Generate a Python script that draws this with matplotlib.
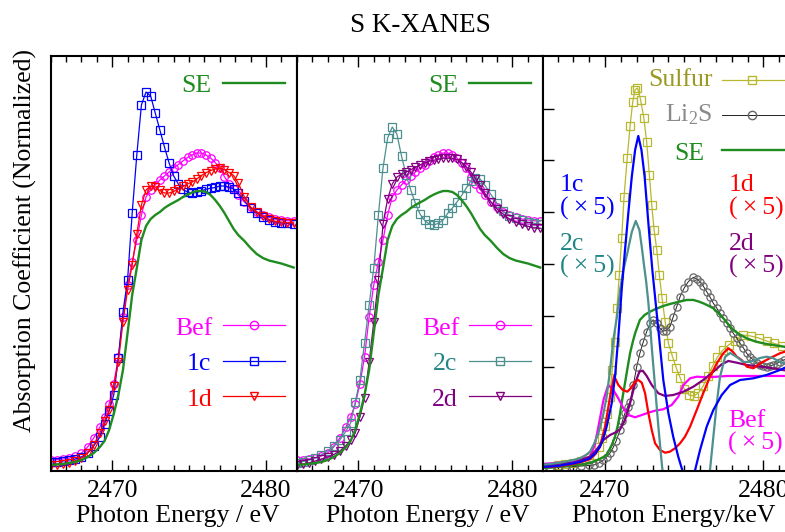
import matplotlib
matplotlib.use('Agg')
import matplotlib.pyplot as plt
from matplotlib.lines import Line2D
from matplotlib.ticker import MultipleLocator, FixedLocator, NullLocator, NullFormatter

plt.rcParams['font.family'] = ['Liberation Serif', 'DejaVu Serif']
plt.rcParams['mathtext.fontset'] = 'custom'
plt.rcParams['mathtext.rm'] = 'Liberation Serif'
plt.rcParams['mathtext.it'] = 'Liberation Serif:italic'
plt.rcParams['mathtext.bf'] = 'Liberation Serif:bold'

# ---------------- data: panels 1 and 2 (normalized absorption) ----------------
E12 = [2466.0, 2466.4, 2466.8, 2467.2, 2467.6, 2468.0, 2468.4, 2468.8, 2469.2,
       2469.5, 2469.8, 2470.1, 2470.4, 2470.7, 2471.0, 2471.3, 2471.6, 2471.9,
       2472.2, 2472.5, 2472.8, 2473.1, 2473.4, 2473.7, 2474.0, 2474.3, 2474.6,
       2474.9, 2475.2, 2475.5, 2475.8, 2476.1, 2476.4, 2476.7, 2477.0, 2477.3,
       2477.6, 2477.9, 2478.2, 2478.6, 2479.0, 2479.4, 2479.8, 2480.2, 2480.6,
       2481.0, 2481.4, 2481.8]
se12 = [0.000, 0.002, 0.004, 0.008, 0.012, 0.020, 0.032, 0.048, 0.072, 0.096, 0.140,
        0.204, 0.280, 0.380, 0.528, 0.680, 0.788, 0.900, 0.956, 0.984, 1.000, 1.012,
        1.028, 1.040, 1.050, 1.060, 1.072, 1.082, 1.090, 1.096, 1.096, 1.092, 1.080,
        1.060, 1.036, 1.008, 0.976, 0.944, 0.920, 0.896, 0.868, 0.844, 0.828, 0.818,
        0.812, 0.806, 0.798, 0.790]
bef = [0.020, 0.022, 0.024, 0.028, 0.036, 0.048, 0.072, 0.108, 0.152, 0.192, 0.244,
       0.324, 0.432, 0.592, 0.720, 0.812, 0.900, 1.000, 1.072, 1.100, 1.120, 1.140,
       1.156, 1.172, 1.188, 1.202, 1.216, 1.230, 1.240, 1.248, 1.248, 1.240, 1.228,
       1.210, 1.188, 1.153, 1.126, 1.102, 1.080, 1.052, 1.030, 1.013, 1.000, 0.990,
       0.984, 0.980, 0.977, 0.976]
c1 = [0.012, 0.014, 0.016, 0.020, 0.024, 0.032, 0.048, 0.076, 0.112, 0.164, 0.216,
      0.280, 0.428, 0.612, 0.740, 1.008, 1.240, 1.440, 1.492, 1.476, 1.408, 1.340,
      1.272, 1.208, 1.156, 1.124, 1.102, 1.092, 1.088, 1.090, 1.096, 1.103, 1.107,
      1.110, 1.116, 1.116, 1.112, 1.104, 1.088, 1.056, 1.028, 1.008, 0.992, 0.980,
      0.972, 0.968, 0.966, 0.964]
d1 = [0.000, 0.002, 0.004, 0.008, 0.016, 0.028, 0.048, 0.080, 0.128, 0.176, 0.220,
      0.316, 0.412, 0.572, 0.700, 0.800, 0.924, 1.040, 1.100, 1.116, 1.112, 1.098,
      1.088, 1.088, 1.094, 1.104, 1.114, 1.124, 1.132, 1.144, 1.158, 1.169, 1.178,
      1.184, 1.187, 1.182, 1.170, 1.158, 1.128, 1.072, 1.032, 1.013, 0.996, 0.982,
      0.975, 0.972, 0.969, 0.969]
c2 = [0.010, 0.014, 0.020, 0.028, 0.040, 0.056, 0.076, 0.100, 0.136, 0.168, 0.252,
      0.340, 0.488, 0.640, 0.788, 1.000, 1.188, 1.308, 1.352, 1.324, 1.236, 1.160,
      1.100, 1.047, 1.004, 0.978, 0.964, 0.960, 0.967, 0.980, 1.007, 1.028, 1.052,
      1.078, 1.108, 1.136, 1.147, 1.144, 1.120, 1.082, 1.047, 1.014, 0.996, 0.987,
      0.978, 0.971, 0.967, 0.964]
d2 = [0.000, 0.004, 0.008, 0.016, 0.024, 0.032, 0.042, 0.056, 0.078, 0.100, 0.128,
      0.192, 0.268, 0.412, 0.572, 0.740, 0.964, 1.064, 1.124, 1.152, 1.163, 1.172,
      1.181, 1.191, 1.200, 1.208, 1.215, 1.219, 1.224, 1.227, 1.227, 1.227, 1.222,
      1.210, 1.193, 1.172, 1.146, 1.118, 1.087, 1.052, 1.024, 1.004, 0.984, 0.972,
      0.962, 0.955, 0.948, 0.947]

# ---------------- data: panel 3 ----------------
E_sul = [2466.0, 2466.5, 2467.0, 2467.5, 2468.0, 2468.5, 2469.0, 2469.3, 2469.6, 2469.8,
         2470.0, 2470.15, 2470.3, 2470.45, 2470.6, 2470.75, 2470.9, 2471.05, 2471.2,
         2471.4, 2471.58, 2471.75, 2471.9, 2472.05, 2472.25, 2472.45, 2472.63, 2472.8,
         2472.95, 2473.1, 2473.27, 2473.43, 2473.6, 2473.8, 2474.0, 2474.25, 2474.5,
         2474.75, 2475.0, 2475.3, 2475.6, 2475.9, 2476.2, 2476.5, 2476.8, 2477.1,
         2477.45, 2477.8, 2478.2, 2478.7, 2479.2, 2479.7, 2480.2, 2480.7, 2481.2, 2481.6]
sulfur = [0.072, 0.081, 0.101, 0.120, 0.149, 0.188, 0.246, 0.313, 0.458, 0.632, 0.865,
          1.097, 1.426, 1.948, 2.489, 3.147, 3.785, 4.501, 5.294, 6.048, 6.667, 7.132,
          7.364, 7.402, 7.170, 6.822, 6.358, 5.720, 5.139, 4.656, 4.269, 3.785, 3.340,
          2.876, 2.470, 2.219, 1.986, 1.793, 1.580, 1.464, 1.445, 1.503, 1.638, 1.832,
          2.025, 2.199, 2.335, 2.431, 2.515, 2.625, 2.605, 2.567, 2.509, 2.460, 2.412,
          2.383]
E_li2s = [2466.0, 2466.5, 2467.0, 2467.5, 2468.0, 2468.5, 2469.0, 2469.3, 2469.6, 2469.9,
          2470.1, 2470.3, 2470.5, 2470.7, 2470.95, 2471.1, 2471.26, 2471.42, 2471.58,
          2471.79, 2472.0, 2472.2, 2472.42, 2472.63, 2472.84, 2473.05, 2473.27, 2473.45,
          2473.65, 2473.85, 2474.1, 2474.31, 2474.53, 2474.74, 2474.99, 2475.26, 2475.58,
          2475.8, 2476.0, 2476.2, 2476.42, 2476.63, 2476.84, 2477.05, 2477.26, 2477.47,
          2477.69, 2477.9, 2478.1, 2478.32, 2478.53, 2478.74, 2478.95, 2479.16, 2479.37,
          2479.58, 2479.8, 2480.0, 2480.2, 2480.4, 2480.6, 2480.85, 2481.05, 2481.3, 2481.6]
li2s = [0.052, 0.052, 0.062, 0.072, 0.077, 0.091, 0.101, 0.110, 0.149, 0.207, 0.265,
        0.337, 0.439, 0.574, 0.787, 0.961, 1.116, 1.232, 1.335, 1.658, 2.012, 2.271,
        2.495, 2.689, 2.851, 2.915, 2.851, 2.760, 2.702, 2.708, 2.785, 2.979, 3.172,
        3.366, 3.528, 3.656, 3.741, 3.708, 3.656, 3.573, 3.462, 3.360, 3.238, 3.147,
        3.044, 2.954, 2.851, 2.760, 2.658, 2.567, 2.464, 2.373, 2.271, 2.199, 2.141,
        2.083, 2.044, 2.025, 2.012, 2.025, 2.044, 2.073, 2.108, 2.141, 2.180]
E_se3 = [2466.0, 2467.0, 2468.0, 2468.5, 2469.0, 2469.5, 2469.8, 2470.1, 2470.4, 2470.63,
         2470.8, 2470.95, 2471.1, 2471.26, 2471.42, 2471.58, 2471.75, 2471.9, 2472.2,
         2472.5, 2472.84, 2473.2, 2473.68, 2474.1, 2474.53, 2475.16, 2475.58, 2475.9,
         2476.2, 2476.5, 2476.84, 2477.15, 2477.47, 2477.8, 2478.1, 2478.5, 2478.95,
         2479.4, 2479.8, 2480.2, 2480.6, 2481.0, 2481.6]
se3 = [0.052, 0.072, 0.110, 0.120, 0.143, 0.207, 0.246, 0.304, 0.478, 0.658, 0.865,
       1.110, 1.406, 1.691, 1.986, 2.271, 2.489, 2.658, 2.915, 3.012, 3.075, 3.128,
       3.186, 3.224, 3.257, 3.302, 3.302, 3.273, 3.238, 3.195, 3.141, 3.050, 2.948,
       2.828, 2.721, 2.634, 2.561, 2.509, 2.476, 2.451, 2.431, 2.412, 2.383]
E_c1x5 = [2466.0, 2467.0, 2468.0, 2468.5, 2469.05, 2469.4, 2469.68, 2469.9, 2470.1,
          2470.25, 2470.42, 2470.63, 2470.84, 2471.05, 2471.26, 2471.47, 2471.69, 2471.9,
          2472.1, 2472.3, 2472.5, 2472.67, 2472.84, 2473.0, 2473.16, 2473.37, 2473.68,
          2474.0, 2474.31, 2474.63, 2474.84, 2475.05, 2475.25, 2475.45, 2475.69, 2476.0,
          2476.42, 2476.84, 2477.37, 2477.9, 2478.53, 2479.37, 2480.2, 2481.05, 2481.6]
c1x5 = [0.072, 0.091, 0.143, 0.178, 0.240, 0.342, 0.464, 0.632, 0.851, 1.058, 1.304,
        1.818, 2.592, 3.495, 4.269, 4.979, 5.687, 6.203, 6.474, 6.203, 5.687, 5.043,
        4.404, 3.843, 3.360, 2.721, 1.754, 1.116, 0.652, 0.265, 0.052, -0.141, -0.219,
        -0.180, 0.014, 0.400, 0.851, 1.174, 1.464, 1.658, 1.754, 1.787, 1.851, 1.948,
        2.025]
E_c2x5 = [2466.0, 2467.16, 2468.0, 2468.4, 2468.8, 2469.05, 2469.3, 2469.58, 2469.9,
          2470.1, 2470.32, 2470.52, 2470.74, 2470.95, 2471.16, 2471.41, 2471.69, 2471.94,
          2472.17, 2472.32, 2472.46, 2472.6, 2472.74, 2472.95, 2473.16, 2473.37, 2473.58,
          2473.8, 2474.1, 2474.5, 2475.0, 2475.5, 2476.0, 2476.3, 2476.63, 2476.84,
          2477.06, 2477.26, 2477.58, 2477.9, 2478.32, 2478.74, 2479.16, 2479.8, 2480.2,
          2480.6, 2481.05, 2481.6]
c2x5 = [0.110, 0.155, 0.207, 0.240, 0.304, 0.368, 0.516, 0.723, 1.110, 1.431, 1.948,
        2.528, 2.954, 3.495, 3.882, 4.211, 4.617, 4.830, 4.656, 4.327, 3.979, 3.650,
        3.244, 2.393, 1.619, 0.845, 0.149, -0.470, -1.147, -1.631, -1.824, -1.727,
        -1.244, -0.663, 0.014, 0.652, 1.309, 1.812, 2.199, 2.277, 2.199, 2.103, 2.103,
        2.180, 2.205, 2.180, 2.103, 2.044]
E_d1x5 = [2466.0, 2466.8, 2468.0, 2468.5, 2469.05, 2469.4, 2469.68, 2470.0, 2470.32,
          2470.57, 2470.84, 2471.12, 2471.41, 2471.62, 2471.9, 2472.1, 2472.32, 2472.53,
          2472.74, 2472.95, 2473.16, 2473.47, 2473.79, 2474.1, 2474.42, 2474.74, 2475.05,
          2475.37, 2475.79, 2476.2, 2476.63, 2477.06, 2477.47, 2477.79, 2478.07, 2478.32,
          2478.63, 2478.95, 2479.37, 2479.8, 2480.4, 2481.05, 2481.6]
d1x5 = [0.072, 0.077, 0.130, 0.168, 0.221, 0.323, 0.464, 0.851, 1.431, 1.832, 1.658,
        1.561, 1.528, 1.594, 1.721, 1.754, 1.702, 1.497, 1.110, 0.787, 0.530, 0.400,
        0.348, 0.368, 0.433, 0.530, 0.658, 0.851, 1.174, 1.497, 1.818, 2.077, 2.271,
        2.368, 2.302, 2.205, 2.141, 2.012, 1.981, 2.077, 2.174, 2.271, 2.325]
E_d2x5 = [2466.0, 2468.0, 2469.05, 2469.5, 2469.9, 2470.32, 2470.63, 2470.95, 2471.26,
          2471.58, 2471.9, 2472.17, 2472.38, 2472.63, 2472.95, 2473.37, 2473.79, 2474.31,
          2474.95, 2475.58, 2476.2, 2476.84, 2477.37, 2477.79, 2478.32, 2478.95, 2479.8,
          2480.6, 2481.6]
d2x5 = [0.110, 0.155, 0.271, 0.420, 0.594, 0.691, 0.735, 0.801, 0.981, 1.304, 1.691,
        1.915, 1.934, 1.832, 1.658, 1.497, 1.445, 1.464, 1.528, 1.625, 1.754, 1.915,
        2.058, 2.122, 2.089, 2.044, 2.012, 1.981, 1.928]
E_befx5 = [2466.0, 2468.0, 2469.05, 2469.35, 2469.58, 2469.9, 2470.2, 2470.52, 2470.84,
           2471.16, 2471.47, 2471.9, 2472.32, 2472.74, 2473.16, 2473.68, 2474.21, 2474.63,
           2474.95, 2475.37, 2475.79, 2476.42, 2477.06, 2477.69, 2478.53, 2479.58,
           2480.6, 2481.6]
befx5 = [0.130, 0.174, 0.271, 0.497, 0.851, 1.368, 1.658, 1.561, 1.400, 1.207, 1.077,
         1.033, 1.077, 1.122, 1.161, 1.188, 1.271, 1.431, 1.658, 1.787, 1.818, 1.807,
         1.818, 1.832, 1.832, 1.832, 1.832, 1.832]

xticks_major = [2470, 2480]
xtick_labels = ['2470', '2480']

# ---------------- colours ----------------
C_SE = '#1e8c1e'
C_BEF = '#ff00ff'
C_1C = '#0000ff'
C_1D = '#ff0000'
C_2C = '#4e8f8f'
C_2C_TXT = '#1f8585'
C_2D = '#800080'
C_SUL = '#b8b830'
C_SUL_TXT = '#9a9a22'
C_LI = '#666666'
C_LI_TXT = '#8a8a8a'

W, H = 785, 532
fig = plt.figure(figsize=(W / 100, H / 100), dpi=100)

def fx(x):
    return x / W

def fy(y):
    return 1 - y / H

AX_B, AX_T = 470.7, 56.0

def add_ax(left, width):
    return fig.add_axes([left / W, 1 - AX_B / H, width / W, (AX_B - AX_T) / H])

ax1 = add_ax(50.7, 246.0)
ax2 = add_ax(296.7, 246.6)
ax3 = add_ax(543.3, 253.3)

FS = 18.5

def style(ax, xlim, ylim, yticks=None):
    ax.set_xlim(*xlim)
    ax.set_ylim(*ylim)
    for s in ax.spines.values():
        s.set_linewidth(1.5)
    ax.xaxis.set_major_locator(FixedLocator(xticks_major))
    ax.set_xticklabels(xtick_labels)
    ax.xaxis.set_minor_locator(MultipleLocator(1))
    ax.tick_params(axis='x', which='both', direction='in', top=True, bottom=True,
                   labelsize=FS, pad=6.5, width=1)
    ax.tick_params(axis='x', which='major', length=8)
    ax.tick_params(axis='x', which='minor', length=4)
    if yticks is None:
        ax.yaxis.set_major_locator(NullLocator())
        ax.tick_params(axis='y', which='both', left=False, right=False, labelleft=False)
    else:
        ax.yaxis.set_major_locator(FixedLocator(yticks))
        ax.yaxis.set_major_formatter(NullFormatter())
        ax.tick_params(axis='y', which='both', direction='in', left=True, right=False,
                       length=8, width=1, labelleft=False)

YL12 = (-0.0228, 1.636)
style(ax1, (2466, 2482), YL12)
style(ax2, (2466, 2482), YL12)
style(ax3, (2466.1, 2482.1), (0, 8.02), yticks=[1, 2, 3, 4, 5, 6, 7])

mk = dict(mfc='none', ms=5.4, mew=0.9, lw=0.9)

# panel 1
ax1.plot(E12, bef, color=C_BEF, marker='o', **mk)
ax1.plot(E12, c1, color=C_1C, marker='s', **mk)
ax1.plot(E12, d1, color=C_1D, marker='v', **mk)
ax1.plot(E12, se12, color=C_SE, lw=1.7)

# panel 2
ax2.plot(E12, bef, color=C_BEF, marker='o', **mk)
ax2.plot(E12, c2, color=C_2C, marker='s', **mk)
ax2.plot(E12, d2, color=C_2D, marker='v', **mk)
ax2.plot(E12, se12, color=C_SE, lw=1.7)

# panel 3
ax3.plot(E_sul, sulfur, color=C_SUL, marker='s', mfc='none', ms=5.2, mew=0.9, lw=0.9)
ax3.plot(E_li2s, li2s, color='#222222', lw=0.7, marker='o', mfc='none', mec=C_LI,
         ms=5.2, mew=0.9)
ax3.plot(E_se3, se3, color=C_SE, lw=1.7)
ax3.plot(E_befx5, befx5, color=C_BEF, lw=1.6)
ax3.plot(E_d2x5, d2x5, color=C_2D, lw=1.6)
ax3.plot(E_d1x5, d1x5, color=C_1D, lw=1.6)
ax3.plot(E_c2x5, c2x5, color=C_2C, lw=1.6)
ax3.plot(E_c1x5, c1x5, color=C_1C, lw=1.6)

# ---------------- key entries (figure pixel coordinates) ----------------
def key(txt, tx, ty, col, x0, x1, ly, lcol, marker=None, mx=None, lw=0.9, mec=None):
    fig.text(fx(tx), fy(ty), txt, color=col, fontsize=FS, ha='right', va='baseline')
    fig.add_artist(Line2D([fx(x0), fx(x1)], [fy(ly), fy(ly)], color=lcol, lw=lw))
    if marker is not None:
        fig.add_artist(Line2D([fx(mx)], [fy(ly)], marker=marker, mfc='none',
                              mec=mec or lcol, ms=6, mew=1.0, lw=0))

key('SE', 211, 91.5, C_SE, 222.7, 285, 82.7, C_SE, lw=1.7)
key('Bef', 213, 335, C_BEF, 222.7, 285, 325, C_BEF, 'o', 253.5)
key('1c', 211, 370, C_1C, 222.7, 285, 361, C_1C, 's', 253.5)
key('1d', 212, 406, C_1D, 222.7, 285, 396, C_1D, 'v', 253.5)

key('SE', 458, 92.5, C_SE, 468.5, 531, 82.7, C_SE, lw=1.7)
key('Bef', 460, 335, C_BEF, 469, 531, 325, C_BEF, 'o', 500)
key('2c', 457, 370, C_2C_TXT, 469, 531, 361, C_2C, 's', 500)
key('2d', 458, 406, C_2D, 469, 531, 396, C_2D, 'v', 500)

key('Sulfur', 713, 86, C_SUL_TXT, 722, 800, 79.5, C_SUL, 's', 752)
key(r'Li$_\mathrm{2}$S', 712, 121.5, C_LI_TXT, 722, 800, 115, '#222222', 'o', 752,
    lw=0.7, mec=C_LI)
key('SE', 704, 160, C_SE, 722, 800, 150, C_SE, lw=1.7)

def lab(txt, x, y, col):
    fig.text(fx(x), fy(y), txt, color=col, fontsize=FS, ha='left', va='baseline')

X5 = '(\u2009\u00d7\u20095)'
lab('1c', 560, 190.7, C_1C)
lab(X5, 560, 215, C_1C)
lab('2c', 560, 250, C_2C_TXT)
lab(X5, 560, 273, C_2C_TXT)
lab('1d', 729, 190.7, C_1D)
lab(X5, 729, 215, C_1D)
lab('2d', 729, 250, C_2D)
lab(X5, 729, 273, C_2D)
lab('Bef', 728, 426.7, C_BEF)
lab(X5, 728, 450, C_BEF)

# ---------------- titles / axis labels ----------------
fig.text(fx(420), fy(25), 'S K-XANES', fontsize=19.5, ha='center', va='center')
fig.text(fx(25), fy(241), 'Absorption Coefficient (Normalized)', fontsize=FS,
         rotation=90, ha='center', va='center')
fig.text(fx(177.5), fy(516), 'Photon Energy / eV', fontsize=FS, ha='center', va='center')
fig.text(fx(428), fy(516), 'Photon Energy / eV', fontsize=FS, ha='center', va='center')
fig.text(fx(674), fy(516), 'Photon Energy/keV', fontsize=FS, ha='center', va='center')

fig.savefig('out.png', dpi=100)
